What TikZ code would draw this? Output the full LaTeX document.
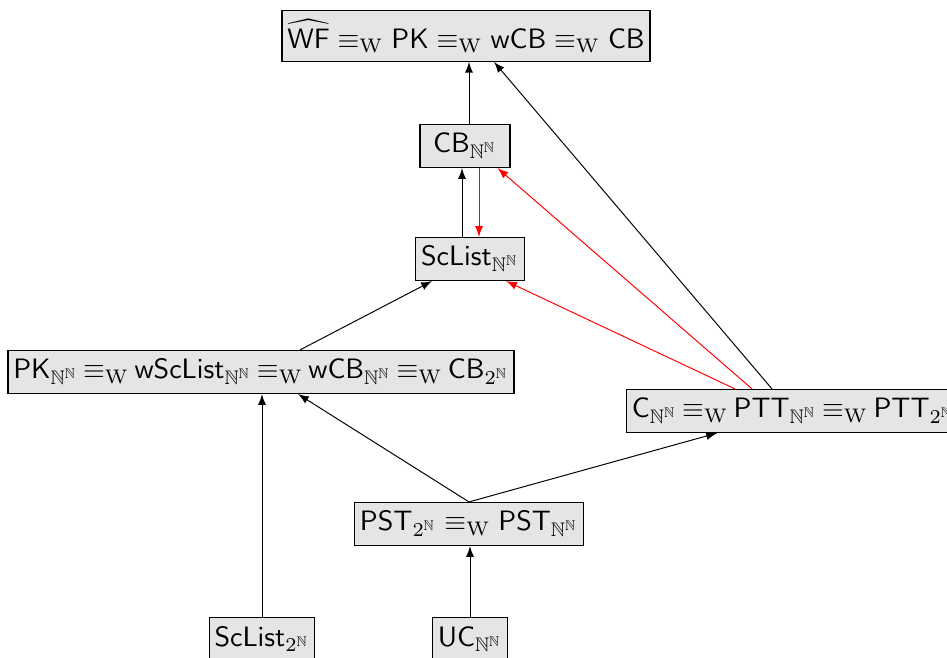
\documentclass[tikz,border=0pt]{standalone}
\usepackage{amssymb}
\usetikzlibrary{calc,arrows}
\newcommand{\NN}{\mathbb{N}^{\mathbb{N}}}
\newcommand{\CN}{2^{\mathbb{N}}}
\newcommand{\eqW}{\equiv_{\mathrm{W}}}
\begin{document}
\begin{tikzpicture}[x=0.3565pt,y=-0.3565pt,
  box/.style={draw,line width=0.4pt,fill=gray!20,inner xsep=1.9pt,inner ysep=3.2pt,minimum height=15pt},
  tight/.style={execute at begin node={\thickmuskip=3.4mu plus 2mu}},
  arr/.style={-latex,line width=0.35pt},
  redarr/.style={arr,red}]
\clip (0,0) rectangle (947,657);
\useasboundingbox (0,0) rectangle (947,657);

\node[box] (top) at (466,36) {$\widehat{\mathsf{WF}} \eqW \mathsf{PK} \eqW \mathsf{wCB} \eqW \mathsf{CB}$};
\node[box,minimum width=90*0.3565pt] (cb) at (465,146) {$\mathsf{CB}_{\NN}$};
\node[box] (sc) at (470,259) {$\mathsf{ScList}_{\NN}$};
\node[box,tight] (pk) at (261,372) {$\mathsf{PK}_{\NN} \eqW \mathsf{wScList}_{\NN} \eqW \mathsf{wCB}_{\NN} \eqW \mathsf{CB}_{\CN}$};
\node[box,tight,anchor=west] (c) at (626,411) {$\mathsf{C}_{\NN} \eqW \mathsf{PTT}_{\NN} \eqW \mathsf{PTT}_{\CN}$};
\node[box] (pst) at (469,524) {$\mathsf{PST}_{\CN} \eqW \mathsf{PST}_{\NN}$};
\node[box,anchor=north] (sc2) at (262,617) {$\mathsf{ScList}_{\CN}$};
\node[box,anchor=north] (uc) at (470,617) {$\mathsf{UC}_{\NN}$};

% reductions
\draw[arr] (cb.north -| 469,0) -- (top.south -| 469,0);
\draw[arr] ($(c.north west)+(146,0)$) -- (top.south -| 494,0);
\draw[arr] (sc.north -| 462,0) -- (cb.south -| 462,0);
\draw[redarr] (cb.south -| 479,0) -- (sc.north -| 479,0);
\draw[redarr] ($(c.north west)+(126,0)$) -- ($(cb.south east)+(-13,0)$);
\draw[redarr] ($(c.north west)+(109,0)$) -- ($(sc.south west)+(91,0)$);
\draw[arr] (pk.north -| 300,0) -- (sc.south -| 432,0);
\draw[arr] (pst.north) -- (pk.south -| 298,0);
\draw[arr] (pst.north) -- ($(c.south west)+(91,0)$);
\draw[arr] (sc2.north) -- (pk.south -| 262,0);
\draw[arr] (uc.north) -- (pst.south -| 470,0);
\end{tikzpicture}
\end{document}
